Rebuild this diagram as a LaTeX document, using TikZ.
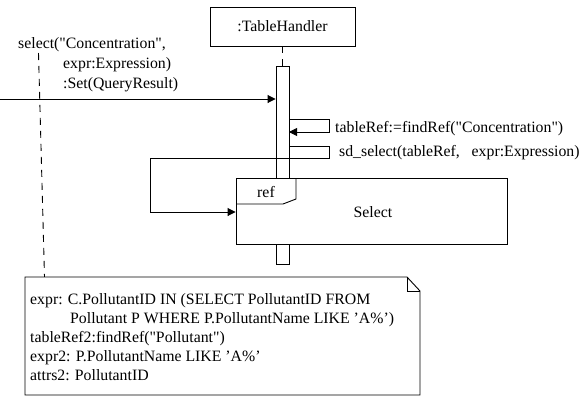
\documentclass[tikz,border=0pt]{standalone}
\usepackage{fontspec}
\setmainfont{Liberation Serif}[Ligatures=TeXOff]
\usetikzlibrary{arrows.meta,calc}
\tikzset{
  txt/.style={inner sep=0pt, anchor=base west, font=\fontsize{15.8}{19}\selectfont},
  ctxt/.style={inner sep=0pt, anchor=base, font=\fontsize{15.8}{19}\selectfont},
  box/.style={draw, fill=white, inner sep=0pt, line width=0.9pt},
  ln/.style={line width=0.9pt},
  msg/.style={ln, -{Triangle[length=8pt,width=8pt]}},
  lifedash/.style={line width=0.9pt, dash pattern=on 7pt off 6pt}
}
\begin{document}
\begin{tikzpicture}[x=1pt,y=-1pt]
\useasboundingbox[fill=white] (0,0) rectangle (582,399);
% lifeline head
\node[box, minimum width=145pt, minimum height=39pt, font=\fontsize{15.8}{19}\selectfont] (th) at (282.5,26.5) {:TableHandler};
% activation
\node[box, minimum width=13pt, minimum height=198pt] (act) at (282.5,165) {};
\draw[lifedash] (th.south) -- (act.north);
% left dashed anchor line of the note
\coordinate (ds) at (38.5,53);
\coordinate (de) at (44.5,277);
\draw[lifedash] (ds) -- (de);
% incoming message
\coordinate (in0) at (0,99);
\draw[msg] (in0) -- (in0 -| act.west);
\node[txt] (m1a) at (18,48) {select("Concentration",};
\node[txt] (m1b) at (63,68) {expr:Expression)};
\node[txt] (m1c) at (63,88) {:Set(QueryResult)};
% self message 1
\coordinate (s1a) at (289,119);
\coordinate (s1b) at (329,119);
\coordinate (s1c) at (329,132);
\coordinate (s1d) at (289,132);
\draw[msg] (s1a) -- (s1b) -- (s1c) -- (s1d);
\node[txt] (m2) at (335,132) {tableRef:=findRef("Concentration")};
% ref box
\node[box, minimum width=271pt, minimum height=66pt] (ref) at (371.5,211) {};
\draw[ln] (296,178) -- (296,199) -- (283,204) -- (236,204);
\node[ctxt] (reflbl) at (266,197) {ref};
\node[ctxt] (sel) at (373,217) {Select};
% self message 2 into the ref
\coordinate (s2a) at (289,146);
\coordinate (s2b) at (329,146);
\coordinate (s2c) at (329,158);
\coordinate (s2d) at (150,158);
\coordinate (s2e) at (150,212);
\draw[msg] (s2a) -- (s2b) -- (s2c) -- (s2d) -- (s2e) -- (s2e -| ref.west);
\node[txt] (m3) at (339,156) {sd\_select(tableRef,\ \ \ expr:Expression)};
% note
\coordinate (n1) at (25,277);
\coordinate (n2) at (407,277);
\coordinate (n3) at (420,291);
\coordinate (n4) at (420,395);
\coordinate (n5) at (25,395);
\draw[ln, fill=white] (n1) -- (n2) -- (n3) -- (n4) -- (n5) -- cycle;
\draw[ln] (n2) -- (n2 |- n3) -- (n3);
\node[txt] (l1) at (30,304) {expr: C.PollutantID IN (SELECT PollutantID FROM};
\node[txt] (l2) at (70,323) {Pollutant P WHERE P.PollutantName LIKE ’A\%’)};
\node[txt] (l3) at (30,342) {tableRef2:findRef("Pollutant")};
\node[txt] (l4) at (30,361) {expr2: P.PollutantName LIKE ’A\%’};
\node[txt] (l5) at (30,380) {attrs2: PollutantID};
\end{tikzpicture}
\end{document}
